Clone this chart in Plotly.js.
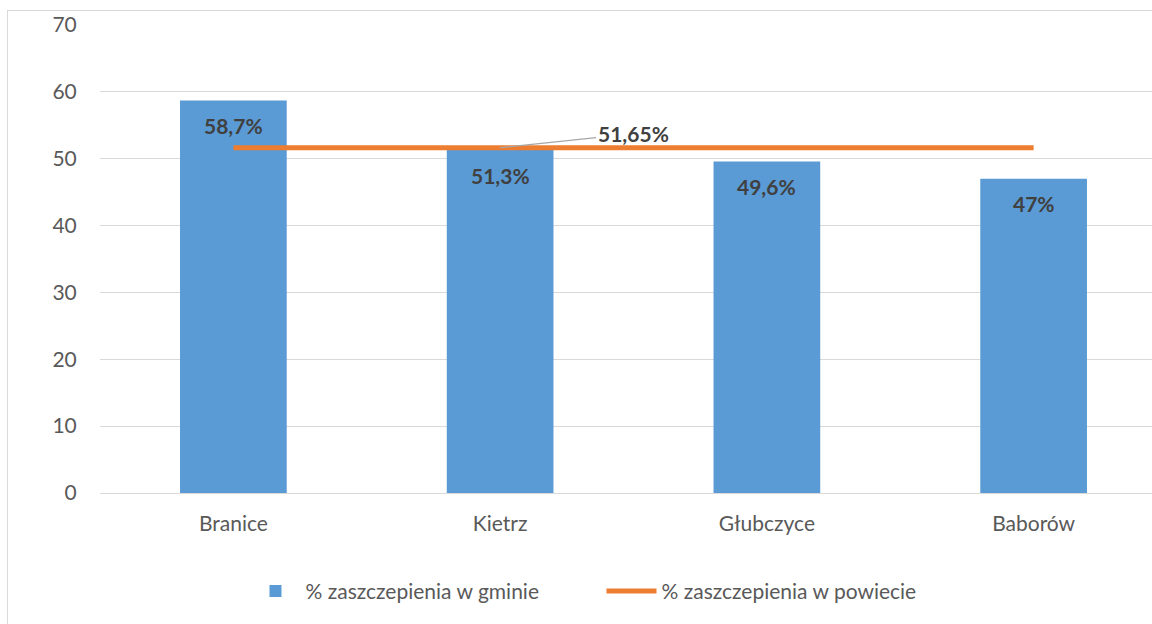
<!DOCTYPE html>
<html>
<head>
<meta charset="utf-8">
<script src="https://cdn.plot.ly/plotly-3.0.1.min.js"></script>
<style>
  html, body { margin: 0; padding: 0; width: 1152px; height: 624px; overflow: hidden; background: #fff; }
  #frame { position: absolute; left: 7px; top: 10px; width: 1200px; height: 660px; border: 1px solid #d9d9d9; box-sizing: border-box; }
  #chart { position: absolute; left: 0; top: 0; width: 1200px; height: 624px; }
</style>
</head>
<body>
<div id="frame"></div>
<div id="chart"></div>
<script>
const categories = ['Branice', 'Kietrz', 'Głubczyce', 'Baborów'];
const gminaValues = [58.7, 51.3, 49.6, 47];
const gminaLabels = ['58,7%', '51,3%', '49,6%', '47%'];
const powiatValues = [51.65, 51.65, 51.65, 51.65];
const powiatLabel = '51,65%';
const yTicks = [0, 10, 20, 30, 40, 50, 60, 70];

const FONT = 'Lato, "Open Sans", sans-serif';

const traces = [
  {
    type: 'bar',
    name: '% zaszczepienia w gminie',
    x: categories,
    y: gminaValues,
    marker: { color: '#5B9BD5' },
    hoverinfo: 'x+y'
  },
  {
    type: 'scatter',
    mode: 'lines',
    name: '% zaszczepienia w powiecie',
    x: categories,
    y: powiatValues,
    line: { color: '#ED7D31', width: 5 },
    hoverinfo: 'x+y'
  }
];

const barLabels = categories.map((c, i) => ({
  x: c,
  y: gminaValues[i],
  xref: 'x', yref: 'y',
  text: '<b>' + gminaLabels[i] + '</b>',
  showarrow: false,
  yshift: -25,
  xanchor: 'center',
  yanchor: 'middle',
  font: { family: FONT, size: 21, color: '#404040' }
}));

const layout = {
  width: 1200,
  height: 624,
  margin: { l: 100, r: 33, t: 25, b: 131 },
  paper_bgcolor: 'rgba(0,0,0,0)',
  plot_bgcolor: 'rgba(0,0,0,0)',
  font: { family: FONT, size: 21, color: '#595959' },
  bargap: 0.6,
  showlegend: true,
  legend: {
    orientation: 'h',
    x: 0.47, xanchor: 'center',
    y: -0.21, yanchor: 'middle',
    font: { family: FONT, size: 21, color: '#595959' },
    itemwidth: 50,
    entrywidth: 291,
    traceorder: 'normal'
  },
  xaxis: {
    type: 'category',
    range: [-0.5, 3.5],
    showgrid: false,
    showline: true,
    linecolor: '#d9d9d9',
    linewidth: 1,
    ticks: 'outside',
    ticklen: 12,
    tickcolor: 'rgba(0,0,0,0)',
    tickfont: { family: FONT, size: 21, color: '#595959' },
    zeroline: false
  },
  yaxis: {
    range: [0, 70],
    tickvals: yTicks,
    showgrid: true,
    gridcolor: '#d9d9d9',
    gridwidth: 1,
    zeroline: false,
    showline: false,
    ticks: 'outside',
    ticklen: 18,
    tickcolor: 'rgba(0,0,0,0)',
    tickfont: { family: FONT, size: 21, color: '#595959' }
  },
  annotations: barLabels.concat([
    {
      x: categories[1],
      y: powiatValues[1],
      xref: 'x', yref: 'y',
      text: '<b>' + powiatLabel + '</b>',
      showarrow: true,
      arrowhead: 0,
      arrowwidth: 1.2,
      arrowcolor: '#a6a6a6',
      ax: 133,
      ay: -14,
      xanchor: 'center',
      yanchor: 'middle',
      font: { family: FONT, size: 21, color: '#404040' }
    }
  ])
};

Plotly.newPlot('chart', traces, layout, { displayModeBar: false, staticPlot: true });
</script>
</body>
</html>
